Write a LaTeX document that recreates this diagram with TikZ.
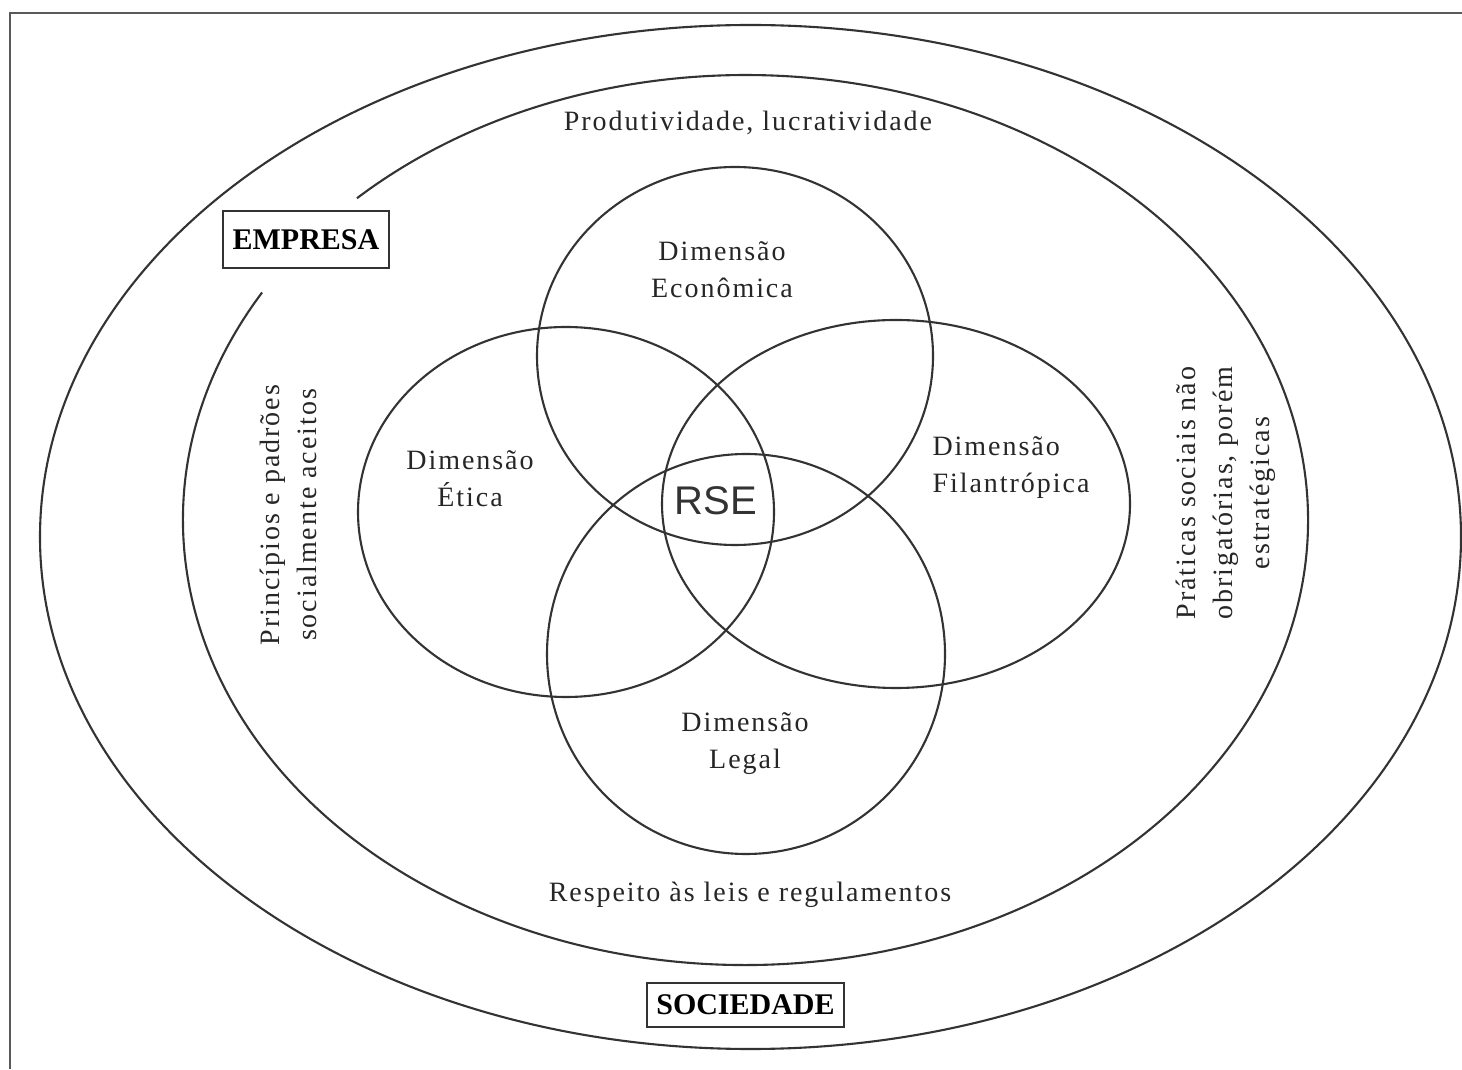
\documentclass[tikz,border=0pt]{standalone}
\usepackage{fontspec}
\setmainfont{Liberation Serif}
\newfontfamily\spaced[LetterSpace=7]{Liberation Serif}
\newfontfamily\rsefont{Liberation Sans}
\begin{document}
\begin{tikzpicture}[x=1pt,y=1pt,
  ring/.style={draw=black!80,line width=2.1pt},
  lbl/.style={font=\spaced\fontsize{28}{37}\selectfont,text=black!85,align=center,inner sep=0pt},
  tag/.style={draw=black!80,line width=2pt,font=\bfseries\fontsize{30}{30}\selectfont,text=black,inner sep=0pt,minimum width=166pt,minimum height=57pt}]
\useasboundingbox (0,0) rectangle (1462,1069);
\fill[white] (0,0) rectangle (1462,1069);
% frame (only top and left edges visible)
\draw[draw=black!65,line width=2.6pt] (1462,1056) -- (10,1056) -- (10,0);
% outer ellipse (Sociedade)
\draw[ring] (750.5,532) ellipse [x radius=710.5, y radius=512];
% inner ellipse (Empresa) with gap near the label
\draw[ring] ([shift={(149.25:562.5 and 445)}]745.5,549) arc[start angle=149.25, end angle=493.7, x radius=562.5, y radius=445];
% four dimensions
\draw[ring] (735,713) ellipse [x radius=198, y radius=189];
\draw[ring] (566,557) ellipse [x radius=208, y radius=185];
\draw[ring] (896,565) ellipse [x radius=234, y radius=184];
\draw[ring] (746,415) ellipse [x radius=199, y radius=200];
% labels
\node[lbl] (prod) at (748,946) {Produtividade, lucratividade};
\node[lbl] (resp) at (750,174) {Respeito às leis e regulamentos};
\node[lbl] (econ) at (722,799) {Dimensão\\Econômica};
\node[lbl] (etica) at (470,590) {Dimensão\\Ética};
\node[lbl,align=left] (filan) at (1011,601) {Dimensão\\Filantrópica};
\node[lbl] (legal) at (745,325) {Dimensão\\Legal};
\node[font=\rsefont\fontsize{40}{40}\selectfont,text=black!80,inner sep=0pt] (rse) at (716,568) {RSE};
\node[lbl,rotate=90] (princ) at (288,554) {Princípios e padrões\\socialmente aceitos};
\node[lbl,rotate=90] (prat) at (1226,576) {Práticas sociais não\\obrigatórias, porém\\estratégicas};
\node[tag] (empresa) at (306,829.5) {EMPRESA};
\node[tag,minimum width=197pt,minimum height=44pt] (sociedade) at (745.5,64) {SOCIEDADE};
\end{tikzpicture}
\end{document}
